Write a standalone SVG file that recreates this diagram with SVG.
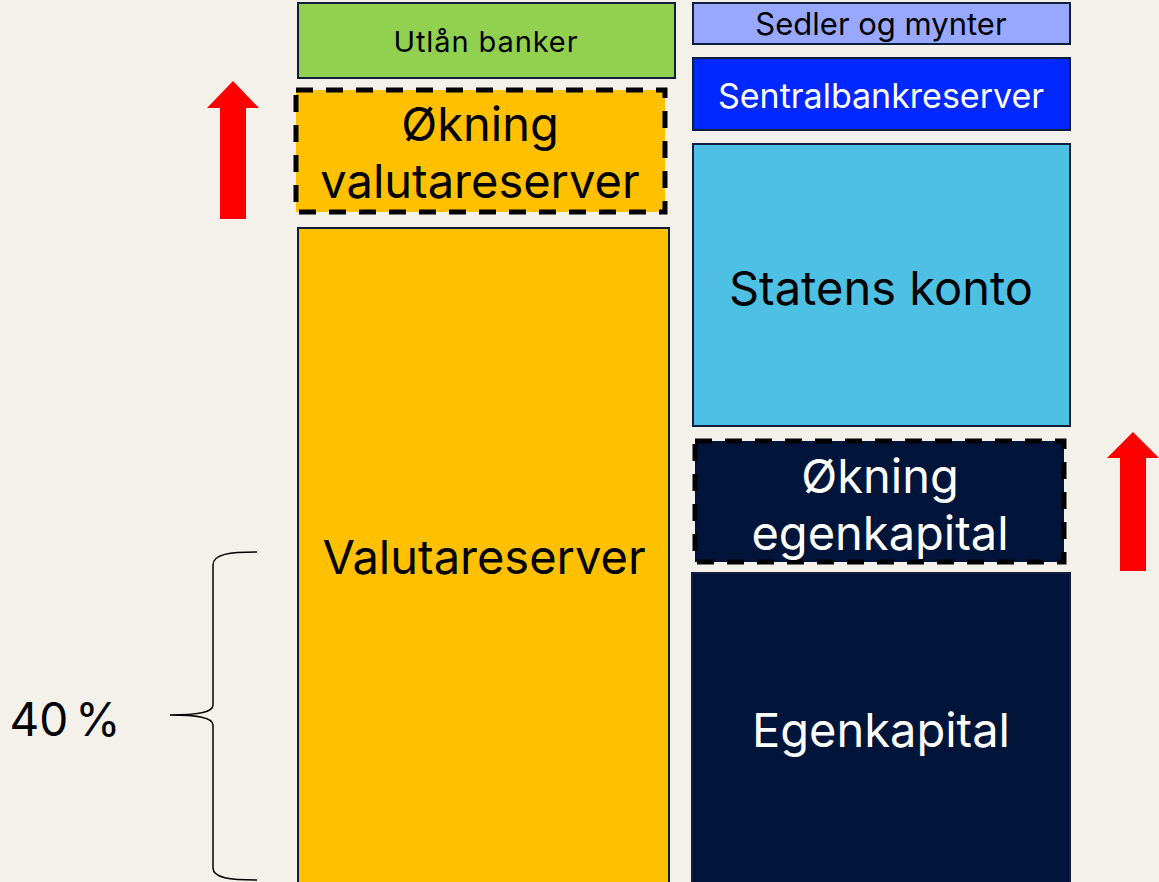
<svg xmlns="http://www.w3.org/2000/svg" width="1159" height="882" viewBox="0 0 1159 882">
<style>
text{font-family:Inter,"Open Sans","Liberation Sans",sans-serif;text-anchor:middle}
.box{stroke:#0f1e3c;stroke-width:2}
.dash{stroke:#000;stroke-width:5;stroke-dasharray:17 13}
.big{font-size:47px}
.arrow{fill:#ff0000}
</style>
<rect width="1159" height="882" fill="#f4f1ea"/>
<g id="utlan"><rect class="box" x="298" y="3" width="377" height="75" fill="#92d050"/><text x="486" y="52" font-size="29" letter-spacing="0.9" fill="#000">Utlån banker</text></g>
<g id="okning-valuta"><rect class="dash" x="296" y="90" width="369" height="122" fill="#ffc000"/><text class="big" x="480" y="141" fill="#000">Økning</text><text class="big" x="480" y="198" fill="#000">valutareserver</text></g>
<g id="valutareserver"><rect class="box" x="298" y="228" width="371" height="656" fill="#ffc000"/><text class="big" x="484" y="574" fill="#000">Valutareserver</text></g>
<g id="sedler"><rect class="box" x="693" y="3" width="377" height="41" fill="#99a8ff"/><text x="881" y="35" font-size="31" fill="#000">Sedler og mynter</text></g>
<g id="sentralbank"><rect class="box" x="693" y="58" width="377" height="72" fill="#0028ff"/><text x="881" y="108" font-size="34" fill="#fff">Sentralbankreserver</text></g>
<g id="statens"><rect class="box" x="693" y="144" width="377" height="282" fill="#4dc0e3"/><text class="big" x="881" y="305" fill="#000">Statens konto</text></g>
<g id="okning-egen"><rect class="dash" x="695" y="441" width="369" height="121" fill="#001539"/><text class="big" x="880" y="493" fill="#fff">Økning</text><text class="big" x="880" y="550" fill="#fff">egenkapital</text></g>
<g id="egenkapital"><rect class="box" x="692" y="573" width="378" height="311" fill="#001539"/><text class="big" x="881" y="747" fill="#fff">Egenkapital</text></g>
<g id="connectors">
<polygon class="arrow" points="233,81 259,108 246,108 246,219 220,219 220,108 207,108"/>
<polygon class="arrow" points="1133,432 1159,458 1146,458 1146,571 1120,571 1120,458 1107,458"/>
<path d="M257,552 C230,552 213,554 213,565 L213,705 C213,712 200,715 170,715 C200,715 213,718 213,725 L213,868 C213,878 230,880 257,880" fill="none" stroke="#000" stroke-width="1.5"/>
</g>
<g id="label-40"><text x="65" y="736" font-size="46" word-spacing="-6" fill="#000" font-family="Lato,sans-serif">40 %</text></g>
</svg>
